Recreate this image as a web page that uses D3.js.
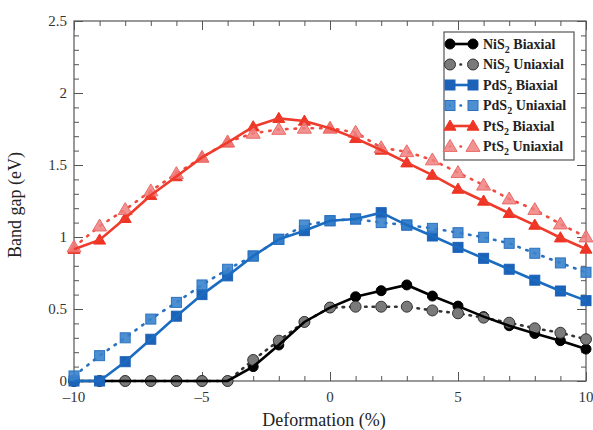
<!DOCTYPE html>
<html>
<head>
<meta charset="utf-8">
<script src="https://cdn.jsdelivr.net/npm/d3@7"></script>
<style>
  body { margin: 0; background: #fff; }
</style>
</head>
<body>
<svg id="chart" width="593" height="430"></svg>
<script>
// data
var strain = [-10,-9,-8,-7,-6,-5,-4,-3,-2,-1,0,1,2,3,4,5,6,7,8,9,10]
var nis2Bi  = [0,0,0,0,0,0,0,0.10,0.25,0.41,0.51,0.585,0.627,0.667,0.59,0.52,0.447,0.384,0.33,0.28,0.222]
var nis2Uni = [0,0,0,0,0,0,0,0.146,0.28,0.41,0.51,0.516,0.516,0.516,0.49,0.47,0.44,0.405,0.366,0.335,0.29]
var pds2Bi  = [0,0,0.134,0.29,0.45,0.60,0.73,0.868,0.984,1.044,1.113,1.125,1.169,1.083,1.007,0.928,0.852,0.776,0.70,0.625,0.558]
var pds2Uni = [0.035,0.176,0.30,0.43,0.546,0.667,0.776,0.868,0.984,1.083,1.113,1.125,1.10,1.083,1.06,1.03,0.998,0.956,0.887,0.82,0.755]
var pts2Bi  = [0.915,0.98,1.13,1.29,1.42,1.553,1.655,1.766,1.824,1.805,1.755,1.685,1.604,1.516,1.43,1.333,1.25,1.165,1.083,0.995,0.917]
var pts2Uni = [0.93,1.076,1.19,1.32,1.44,1.553,1.66,1.72,1.747,1.755,1.755,1.727,1.62,1.592,1.535,1.447,1.36,1.264,1.19,1.09,1.0]
var xTicks = [-10,-5,0,5,10]
var yTicks = [0,0.5,1,1.5,2,2.5]

var series = [
  {name: "NiS", label: " Biaxial",  vals: nis2Bi,  shape: "circle",   fill: "#000000", stroke: "#000000", line: "#000000", dash: null},
  {name: "NiS", label: " Uniaxial", vals: nis2Uni, shape: "circle",   fill: "#7a7a7a", stroke: "#333333", line: "#333333", dash: "1.5,6"},
  {name: "PdS", label: " Biaxial",  vals: pds2Bi,  shape: "square",   fill: "#1b62b8", stroke: "#1b62b8", line: "#1b6cc0", dash: null},
  {name: "PdS", label: " Uniaxial", vals: pds2Uni, shape: "square",   fill: "#3a83cc", stroke: "#2a72c0", line: "#2a72c0", dash: "1.5,7"},
  {name: "PtS", label: " Biaxial",  vals: pts2Bi,  shape: "triangle", fill: "#ee3424", stroke: "#ee3424", line: "#ef3b2c", dash: null},
  {name: "PtS", label: " Uniaxial", vals: pts2Uni, shape: "triangle", fill: "#f08080", stroke: "#e96a66", line: "#ef4b40", dash: "1.5,7"}
]

var serif = "'Liberation Serif', 'Times New Roman', Times, 'DejaVu Serif', serif"
var margin = {top: 21, right: 7, bottom: 49, left: 74}
var svg = d3.select("#chart")
var W = 593, H = 430
var width = W - margin.left - margin.right
var height = H - margin.top - margin.bottom

var x = d3.scaleLinear().domain([-10, 10]).range([0, width])
var y = d3.scaleLinear().domain([0, 2.5]).range([height, 0])

var g = svg.append("g").attr("transform", "translate(" + margin.left + "," + margin.top + ")")

// frame and inward ticks
var axisColor = "#555"
function inner(axis, major, minor, pos) {
  var a = g.append("g").attr("transform", pos)
  a.call(axis.tickValues(minor).tickSize(5).tickFormat(""))
  a.select(".domain").remove()
  a.selectAll("line").attr("stroke", axisColor)
  var b = g.append("g").attr("transform", pos)
  b.call(axis.tickValues(major).tickSize(9).tickFormat(""))
  b.select(".domain").remove()
  b.selectAll("line").attr("stroke", axisColor)
}
var xMinor = d3.range(-10, 11, 1)
var yMinor = d3.range(0, 26, 1).map(function(d) { return d / 10 })
inner(d3.axisTop(x), xTicks, xMinor, "translate(0," + height + ")")
inner(d3.axisBottom(x), xTicks, xMinor, "translate(0,0)")
inner(d3.axisRight(y), yTicks, yMinor, "translate(0,0)")
inner(d3.axisLeft(y), yTicks, yMinor, "translate(" + width + ",0)")

g.append("rect").attr("width", width).attr("height", height)
  .attr("fill", "none").attr("stroke", axisColor).attr("stroke-width", 1.2)

// tick labels
var fmtY = function(d) { return d === 0 ? "0" : (d % 1 === 0 ? d3.format("d")(d) : d3.format(".1f")(d)) }
g.selectAll(".ylab").data(yTicks).enter().append("text")
  .attr("x", -7).attr("y", function(d) { return y(d) }).attr("dy", "0.35em")
  .attr("text-anchor", "end").attr("font-size", 15).attr("fill", "#333")
  .style("font-family", serif)
  .text(fmtY)
g.selectAll(".xlab").data(xTicks).enter().append("text")
  .attr("x", function(d) { return x(d) }).attr("y", height + 21)
  .attr("text-anchor", "middle").attr("font-size", 15).attr("fill", "#333")
  .style("font-family", serif)
  .text(function(d) { return d < 0 ? "\u2013" + Math.abs(d) : d })

g.append("text").attr("x", width / 2 - 6).attr("y", height + 45)
  .attr("text-anchor", "middle").attr("font-size", 18).attr("fill", "#222")
  .style("font-family", serif)
  .text("Deformation (%)")
g.append("text").attr("transform", "translate(" + (-53) + "," + (height / 2 + 4) + ") rotate(-90)")
  .attr("text-anchor", "middle").attr("font-size", 18).attr("fill", "#222")
  .style("font-family", serif)
  .text("Band gap (eV)")

// markers
function drawMarker(sel, s, cx, cy) {
  if (s.shape === "circle") {
    sel.append("circle").attr("cx", cx).attr("cy", cy).attr("r", s.dash ? 5.5 : 5)
      .attr("fill", s.fill).attr("stroke", s.stroke).attr("stroke-width", 1)
  } else if (s.shape === "square") {
    sel.append("rect").attr("x", cx - 5).attr("y", cy - 5).attr("width", 10).attr("height", 10)
      .attr("fill", s.fill).attr("stroke", s.stroke).attr("stroke-width", 1)
      .attr("fill-opacity", s.dash ? 0.9 : 1)
  } else {
    var r = s.dash ? 7 : 6
    sel.append("path")
      .attr("d", "M" + cx + "," + (cy - r) + "L" + (cx + r) + "," + (cy + r * 0.7) + "L" + (cx - r) + "," + (cy + r * 0.7) + "Z")
      .attr("fill", s.fill).attr("stroke", s.stroke).attr("stroke-width", 1)
      .attr("fill-opacity", s.dash ? 0.85 : 1)
  }
}

var line = d3.line()
  .x(function(d, i) { return x(strain[i]) })
  .y(function(d) { return y(d) })

function drawLine(s) {
  g.append("path").datum(s.vals).attr("d", line)
    .attr("fill", "none").attr("stroke", s.line)
    .attr("stroke-width", 2.6)
    .attr("stroke-linecap", s.dash ? "round" : "butt")
    .attr("stroke-dasharray", s.dash)
}
function drawMarkers(s) {
  var mg = g.append("g")
  s.vals.forEach(function(v, i) { drawMarker(mg, s, x(strain[i]), y(v)) })
}

// per material: biaxial markers, uniaxial line + markers, then biaxial line on top
for (var k = 0; k < series.length; k += 2) {
  var bi = series[k], uni = series[k + 1]
  drawMarkers(bi)
  drawLine(uni)
  drawMarkers(uni)
  drawLine(bi)
}

// legend
var leg = svg.append("g").attr("transform", "translate(444,32)")
leg.append("rect").attr("width", 130).attr("height", 128)
  .attr("fill", "#fff").attr("stroke", "#555").attr("stroke-width", 1.2)
series.forEach(function(s, i) {
  var ly = 12 + i * 20.5
  var row = leg.append("g")
  row.append("line").attr("x1", 6).attr("x2", 29).attr("y1", ly).attr("y2", ly)
    .attr("stroke", s.line).attr("stroke-width", 2.6)
    .attr("stroke-linecap", s.dash ? "round" : "butt")
    .attr("stroke-dasharray", s.dash ? "0,10.5,0.5,20" : null)
  drawMarker(row, s, 6, ly)
  drawMarker(row, s, 29, ly)
  var t = row.append("text").attr("x", 39).attr("y", ly).attr("dy", "0.35em")
    .attr("font-size", 14).attr("font-weight", "bold").attr("fill", "#222")
    .style("font-family", serif)
  t.append("tspan").text(s.name)
  t.append("tspan").attr("dy", 4).attr("font-size", 10).text("2")
  t.append("tspan").attr("dy", -4).text(s.label)
})
</script>
</body>
</html>
